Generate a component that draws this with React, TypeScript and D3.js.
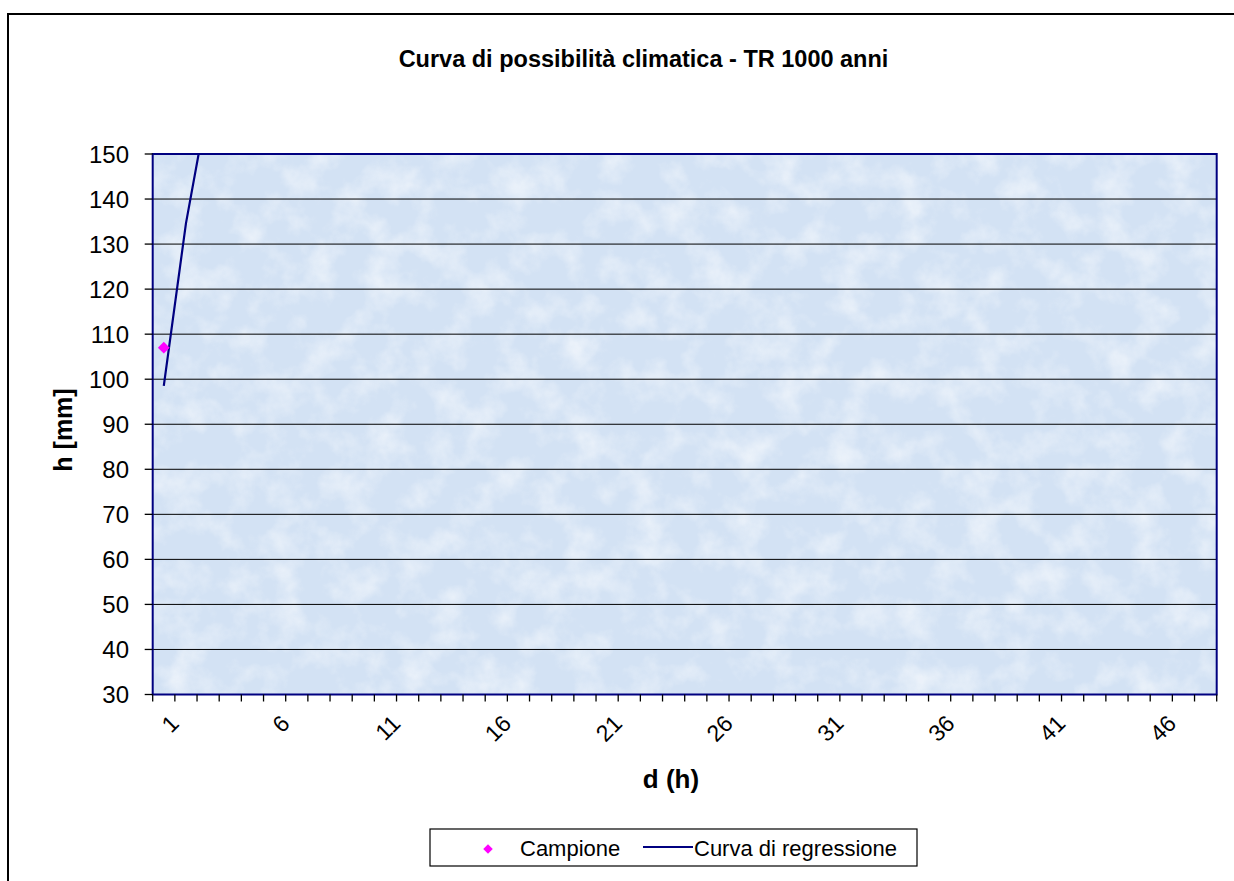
import React, { useEffect, useRef } from 'react';
import * as d3 from 'd3';

// durations d (h), category axis 1..48
const durations: number[] = d3.range(1, 49);
const tickLabels: number[] = [1, 6, 11, 16, 21, 26, 31, 36, 41, 46];
const yTicks: number[] = [30, 40, 50, 60, 70, 80, 90, 100, 110, 120, 130, 140, 150];

// sample (Campione)
const sampleD: number[] = [1];
const sampleH: number[] = [107];

// regression curve values (clipped above 150)
const curveD: number[] = [1, 2, 3, 4, 5, 6, 7, 8, 9, 10];
const curveH: number[] = [98.5, 134.6, 161.5, 183.8, 203.2, 220.6, 236.5, 251.1, 264.8, 277.6];

const FONT = "'Liberation Sans', Arial, sans-serif";

export default function App() {
  const ref = useRef<SVGSVGElement>(null);

  useEffect(() => {
    if (!ref.current) return;
    const svg = d3.select(ref.current);
    svg.selectAll('*').remove();

    const left = 152.7, right = 1216.7, top = 154, bottom = 694.5;

    const x = d3.scaleBand<number>().domain(durations).range([left, right]).paddingInner(0).paddingOuter(0);
    const cx = (d: number) => (x(d) as number) + x.bandwidth() / 2;
    const y = d3.scaleLinear().domain([30, 150]).range([bottom, top]);

    const defs = svg.append('defs');
    defs.append('clipPath').attr('id', 'plotClip')
      .append('rect').attr('x', left).attr('y', top).attr('width', right - left).attr('height', bottom - top);

    const f = defs.append('filter').attr('id', 'tissue').attr('x', 0).attr('y', 0).attr('width', '100%').attr('height', '100%');
    f.append('feTurbulence').attr('type', 'fractalNoise').attr('baseFrequency', '0.03').attr('numOctaves', 4).attr('seed', 7).attr('result', 'n');
    f.append('feColorMatrix').attr('in', 'n').attr('type', 'matrix')
      .attr('values', '0 0 0 0 1  0 0 0 0 1  0 0 0 0 1  2.2 0 0 0 -0.95');

    // outer chart frame (only top and left edges are inside the picture)
    svg.append('path').attr('d', 'M8,900 L8,14 L1240,14')
      .attr('fill', 'none').attr('stroke', '#000').attr('stroke-width', 2);

    // title
    svg.append('text').attr('x', 643.5).attr('y', 67).attr('text-anchor', 'middle')
      .attr('font-family', FONT).attr('font-weight', 'bold').attr('font-size', 23.5)
      .text('Curva di possibilità climatica - TR 1000 anni');

    // plot background
    svg.append('rect').attr('x', left).attr('y', top).attr('width', right - left).attr('height', bottom - top)
      .attr('fill', '#d3e2f4');
    svg.append('rect').attr('x', left).attr('y', top).attr('width', right - left).attr('height', bottom - top)
      .attr('filter', 'url(#tissue)').attr('opacity', 0.55);

    // gridlines
    svg.append('g').selectAll('line').data(yTicks.filter(t => t > 30 && t < 150)).join('line')
      .attr('x1', left).attr('x2', right).attr('y1', d => y(d)).attr('y2', d => y(d))
      .attr('stroke', '#000').attr('stroke-width', 1);

    // plot border
    svg.append('rect').attr('x', left).attr('y', top).attr('width', right - left).attr('height', bottom - top)
      .attr('fill', 'none').attr('stroke', '#000080').attr('stroke-width', 2);

    // y axis ticks + labels
    const yg = svg.append('g');
    yg.selectAll('line').data(yTicks).join('line')
      .attr('x1', left - 8).attr('x2', left).attr('y1', d => y(d)).attr('y2', d => y(d))
      .attr('stroke', '#000').attr('stroke-width', 1.3);
    yg.selectAll('text').data(yTicks).join('text')
      .attr('x', 129).attr('y', d => y(d)).attr('dy', '0.36em').attr('text-anchor', 'end')
      .attr('font-family', FONT).attr('font-size', 24).text(d => d);

    // x axis ticks
    const boundaries = durations.map(d => x(d) as number).concat([right]);
    svg.append('g').selectAll('line').data(boundaries).join('line')
      .attr('x1', d => d).attr('x2', d => d).attr('y1', bottom).attr('y2', bottom + 7)
      .attr('stroke', '#000').attr('stroke-width', 1.3);
    svg.append('g').selectAll('text').data(tickLabels).join('text')
      .attr('transform', d => `translate(${cx(d) + 5},${bottom + 19}) rotate(-45)`)
      .attr('text-anchor', 'end').attr('dy', '0.7em')
      .attr('font-family', FONT).attr('font-size', 23).text(d => d);

    // axis titles
    svg.append('text').attr('transform', 'translate(72,430) rotate(-90)').attr('text-anchor', 'middle')
      .attr('font-family', FONT).attr('font-weight', 'bold').attr('font-size', 25).text('h [mm]');
    svg.append('text').attr('x', 671).attr('y', 788).attr('text-anchor', 'middle')
      .attr('font-family', FONT).attr('font-weight', 'bold').attr('font-size', 26).text('d (h)');

    // regression curve
    const line = d3.line<number>().x((_, i) => cx(curveD[i])).y(d => y(d));
    svg.append('path').datum(curveH).attr('clip-path', 'url(#plotClip)')
      .attr('fill', 'none').attr('stroke', '#000080').attr('stroke-width', 2.2).attr('d', line);

    // sample points
    const diamond = d3.symbol().type(d3.symbolSquare).size(70);
    svg.append('g').selectAll('path').data(sampleH).join('path')
      .attr('transform', (d, i) => `translate(${cx(sampleD[i])},${y(d)}) rotate(45)`)
      .attr('d', diamond).attr('fill', '#ff00ff');

    // legend
    const lg = svg.append('g');
    lg.append('rect').attr('x', 430).attr('y', 829).attr('width', 487).attr('height', 37)
      .attr('fill', '#fff').attr('stroke', '#000').attr('stroke-width', 1.2);
    lg.append('path').attr('transform', 'translate(488,849) rotate(45)')
      .attr('d', d3.symbol().type(d3.symbolSquare).size(45)()).attr('fill', '#ff00ff');
    lg.append('text').attr('x', 520).attr('y', 848).attr('dy', '0.36em')
      .attr('font-family', FONT).attr('font-size', 22).text('Campione');
    lg.append('line').attr('x1', 643).attr('x2', 693).attr('y1', 847).attr('y2', 847)
      .attr('stroke', '#000080').attr('stroke-width', 2.2);
    lg.append('text').attr('x', 694).attr('y', 848).attr('dy', '0.36em')
      .attr('font-family', FONT).attr('font-size', 22).text('Curva di regressione');
  }, []);

  return (
    <div style={{ position: 'absolute', left: 0, top: 0 }}>
      <svg ref={ref} width={1234} height={881} style={{ display: 'block' }} />
    </div>
  );
}
